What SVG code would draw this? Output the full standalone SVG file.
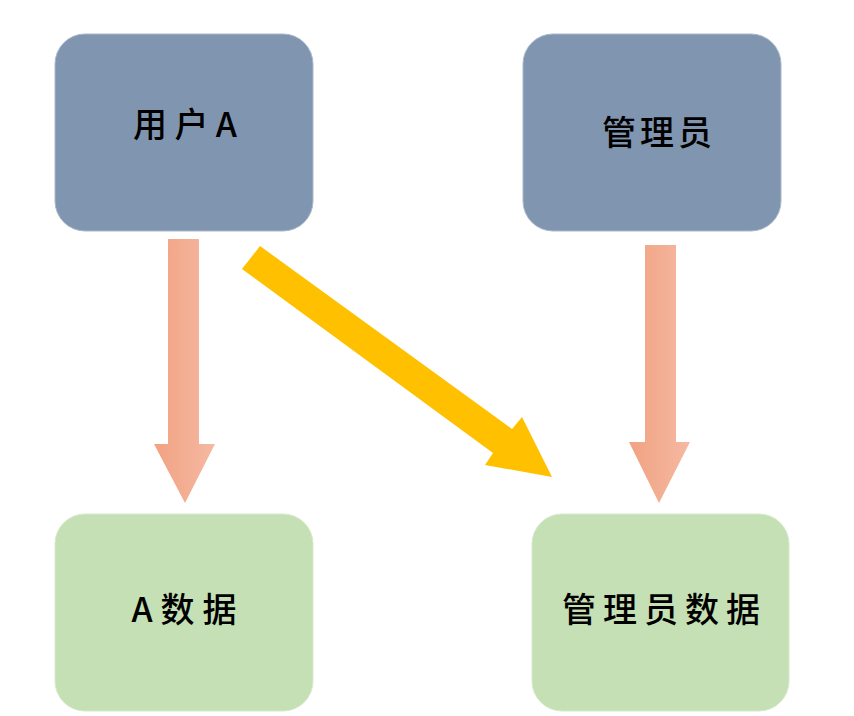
<svg xmlns="http://www.w3.org/2000/svg" width="854" height="716" viewBox="0 0 854 716">
<defs>
<style>
.user{fill:#8096B0;stroke:#A9B8CA;stroke-width:1}
.data{fill:#C5E0B4;stroke:#D6EACB;stroke-width:1}
.lbl{font-family:"Noto Sans CJK SC","Noto Sans",sans-serif;font-size:34px;font-weight:500;fill:#000;text-anchor:middle}
.down{fill:url(#pink)}
.diag{fill:#FFC000}
</style>
<linearGradient id="pink" x1="0" y1="0" x2="1" y2="0">
<stop offset="0" stop-color="#F1A282"/>
<stop offset="1" stop-color="#F5B9A2"/>
</linearGradient>
</defs>
<rect width="854" height="716" fill="#fff"/>
<g id="node-userA">
<rect class="user" x="55" y="34" width="258" height="197" rx="30"/>
<text class="lbl" x="185" y="137" textLength="104" lengthAdjust="spacing">用户A</text>
</g>
<g id="node-admin">
<rect class="user" x="523" y="34" width="258" height="197" rx="30"/>
<text class="lbl" x="657" y="145" textLength="110" lengthAdjust="spacing">管理员</text>
</g>
<g id="node-dataA">
<rect class="data" x="55" y="514" width="258" height="197" rx="30"/>
<text class="lbl" x="184" y="622" textLength="105" lengthAdjust="spacing">A数据</text>
</g>
<g id="node-adminData">
<rect class="data" x="532" y="514" width="257" height="197" rx="30"/>
<text class="lbl" x="661" y="622" textLength="198" lengthAdjust="spacing">管理员数据</text>
</g>
<g id="connectors">
<polygon class="down" points="168,239 199,239 199,444 215,444 185,503 154,444 168,444"/>
<polygon class="down" points="645,245 676,245 676,442 690,442 659,503 629,442 645,442"/>
<polygon class="diag" points="260,246 512,429 522,417 552,477 485,465 493,453 242,269"/>
</g>
</svg>
